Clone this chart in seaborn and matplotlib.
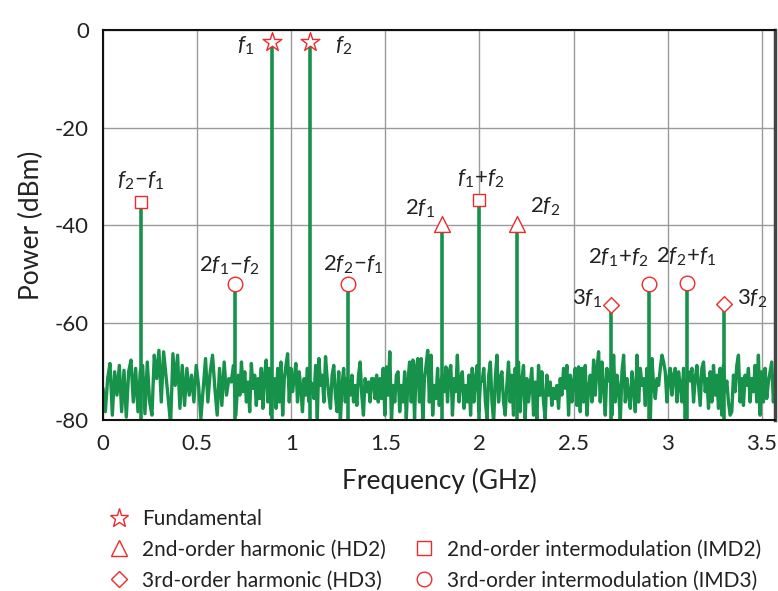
import numpy as np
import pandas as pd
import matplotlib
matplotlib.use("Agg")
import matplotlib.pyplot as plt
from matplotlib.lines import Line2D
import seaborn as sns

# noise floor (dBm)
seg_edges = [0.0, 0.718, 1.436, 2.154, 2.872, 3.57]
noise_1 = [-73.5, -78.3, -71.5, -68.4, -79.0, -70.1, -74.9, -68.8, -78.3, -69.8,
           -79.4, -70.1, -67.7, -76.3, -69.4, -78.3, -70.0, -68.8, -78.7, -68.1,
           -76.3, -79.0, -66.7, -71.5, -65.7, -76.3, -66.0, -70.8, -75.6, -81.0,
           -66.4, -72.9, -66.7, -77.6, -68.8, -77.0, -69.4, -74.9, -70.8, -76.3,
           -68.8, -72.9, -79.7, -73.5, -67.4, -76.3, -70.1, -66.7, -73.5, -79.0,
           -69.4, -77.0, -68.1, -74.9, -71.5, -72.2, -68.8, -79.0]
noise_2 = [-70.8, -74.9, -68.1, -74.2, -70.1, -76.3, -72.2, -78.3, -68.4, -73.5,
           -70.8, -77.0, -71.5, -75.6, -69.4, -77.6, -70.8, -67.7, -76.3, -69.4,
           -79.0, -72.0, -71.5, -77.6, -69.4, -76.3, -68.1, -79.0, -71.5, -68.8,
           -66.4, -76.3, -69.4, -74.2, -71.5, -68.4, -76.3, -70.1, -73.5, -78.3,
           -71.5, -74.9, -69.4, -76.3, -72.2, -73.0, -75.6, -68.8, -79.7, -67.4,
           -72.9, -70.8, -76.3, -67.0, -71.5, -74.9, -77.6, -70.8, -68.8, -74.9,
           -78.3, -70.1, -80.4, -72.9, -69.4, -76.3, -71.5, -72.0, -74.9, -70.8,
           -76.3, -72.9, -77.0, -70.8, -68.1, -74.9, -79.0, -71.5, -74.2, -72.2,
           -76.3, -71.5]
noise_3 = [-71.5, -75.6, -70.8, -76.3, -71.5, -75.6, -69.4, -79.0, -69.1, -74.9,
           -66.0, -80.4, -72.9, -76.3, -70.8, -70.1, -78.3, -72.9, -76.3, -70.1,
           -79.7, -72.2, -68.1, -76.3, -67.7, -79.7, -69.4, -67.4, -76.3, -67.4,
           -80.4, -71.5, -68.8, -65.7, -76.3, -66.7, -79.0, -72.9, -75.6, -69.4,
           -77.0, -72.0, -70.8, -74.2, -69.1, -76.3, -70.1, -68.8, -79.0, -71.5,
           -74.2, -66.7, -76.3, -71.5, -70.1, -77.6, -72.9, -76.3, -70.8, -79.0,
           -69.4, -76.3, -71.5, -68.8, -78.3, -72.2, -72.0, -69.4, -76.3, -79.7,
           -70.8, -68.1, -76.3, -80.4, -71.5, -66.7, -76.3, -71.5, -70.1, -76.3,
           -79.0, -72.9]
noise_4 = [-68.1, -76.3, -70.8, -79.0, -69.4, -74.2, -68.1, -78.3, -72.0, -68.8,
           -79.7, -71.5, -76.3, -72.9, -69.4, -79.0, -72.2, -80.4, -68.8, -74.9,
           -70.1, -76.3, -79.7, -70.8, -74.9, -72.2, -77.0, -73.5, -75.6, -72.9,
           -77.6, -71.5, -74.9, -69.4, -73.5, -68.8, -79.0, -70.8, -76.3, -72.2,
           -69.4, -77.0, -69.1, -78.3, -69.4, -76.3, -68.8, -79.0, -73.5, -70.8,
           -76.3, -67.7, -74.9, -69.4, -66.0, -76.3, -68.1, -72.9, -79.0, -69.4,
           -72.0, -70.1, -79.0, -66.7, -76.3, -70.8, -73.5, -80.4, -70.1, -66.7,
           -76.3, -71.5, -74.9, -77.6, -70.1, -73.5, -78.3, -66.7, -76.3, -69.4,
           -72.9]
noise_5 = [-71.5, -77.0, -69.4, -72.0, -80.4, -67.4, -72.9, -75.6, -71.5, -72.9,
           -69.4, -66.7, -68.1, -70.1, -76.3, -71.5, -69.4, -74.9, -70.8, -69.4,
           -76.3, -70.1, -72.9, -76.3, -69.4, -79.7, -72.2, -70.1, -72.0, -69.4,
           -76.3, -71.5, -68.8, -72.9, -77.0, -69.4, -68.1, -74.2, -71.5, -77.6,
           -70.1, -76.3, -68.8, -74.9, -70.8, -77.6, -69.4, -79.0, -68.8, -74.2,
           -72.0, -76.3, -79.0, -78.3, -70.8, -74.2, -68.8, -66.7, -76.3, -71.5,
           -77.0, -70.8, -72.9, -69.4, -76.3, -71.5, -74.2, -68.8, -76.3, -66.7,
           -79.0, -70.1, -76.3, -69.4, -75.6, -72.2, -70.1, -68.1, -76.3, -70.8]

# tones
tone_names = ["$f_1$", "$f_2$", r"$f_2\!-\!f_1$", r"$2f_1\!-\!f_2$", r"$2f_2\!-\!f_1$",
              "$2f_1$", r"$f_1\!+\!f_2$", "$2f_2$", "$3f_1$", r"$2f_1\!+\!f_2$",
              r"$2f_2\!+\!f_1$", "$3f_2$"]
tone_freq = [0.9, 1.1, 0.2, 0.7, 1.3, 1.8, 2.0, 2.2, 2.7, 2.9, 3.1, 3.3]
tone_power = [-2.4, -2.4, -35.3, -52.1, -52.1, -39.8, -34.9, -39.8, -56.5, -52.1, -51.9, -56.2]
tone_kind = ["Fundamental", "Fundamental", "IMD2", "IMD3", "IMD3", "HD2", "IMD2",
             "HD2", "HD3", "IMD3", "IMD3", "HD3"]

kinds = ["Fundamental", "HD2", "HD3", "IMD2", "IMD3"]
kind_labels = ["Fundamental", "2nd-order harmonic (HD2)", "3rd-order harmonic (HD3)",
               "2nd-order intermodulation (IMD2)", "3rd-order intermodulation (IMD3)"]
kind_marker = {"Fundamental": "*", "HD2": "^", "HD3": "D", "IMD2": "s", "IMD3": "o"}
kind_size = {"Fundamental": 200, "HD2": 130, "HD3": 64, "IMD2": 85, "IMD3": 110}

# label offsets (points): dx, dy, horizontal align, vertical align
label_off = [(-13, -3, "right", "center"), (18, -3, "left", "center"),
             (0, 7, "center", "bottom"), (-4, 5, "center", "bottom"),
             (4, 6, "center", "bottom"), (-5, 3, "right", "bottom"),
             (1, 7, "center", "bottom"), (9, 4, "left", "bottom"),
             (-7, 5, "right", "center"), (-22, 11, "center", "bottom"),
             (0, 11, "center", "bottom"), (9, 4, "left", "center")]

green = "#17924a"
red = "#ee2a2a"

sns.set_style("white")
plt.rcParams["font.family"] = ["Lato", "DejaVu Sans"]
plt.rcParams["mathtext.fontset"] = "custom"
plt.rcParams["mathtext.rm"] = "Lato"
plt.rcParams["mathtext.it"] = "Lato:italic"
plt.rcParams["axes.unicode_minus"] = False

segs = [noise_1, noise_2, noise_3, noise_4, noise_5]
freq, power = [], []
for i, s in enumerate(segs):
    freq += list(np.linspace(seg_edges[i], seg_edges[i + 1], len(s), endpoint=(i == 4)))
    power += s
noise_df = pd.DataFrame({"freq": freq, "power": power})
tones = pd.DataFrame({"freq": tone_freq, "power": tone_power, "kind": tone_kind})

fig = plt.figure(figsize=(7.78, 5.91), dpi=100)
ax = fig.add_axes([0.1324, 0.2893, 0.8638, 0.6599])

sns.lineplot(data=noise_df, x="freq", y="power", ax=ax, color=green, lw=2.4, zorder=2)
ax.vlines(tones["freq"], -80, tones["power"], color=green, lw=2.6, zorder=2)
for k in kinds:
    sub = tones[tones.kind == k]
    sns.scatterplot(data=sub, x="freq", y="power", ax=ax, marker=kind_marker[k],
                    s=kind_size[k], facecolor="white", edgecolor=red, linewidth=1.0,
                    zorder=4, legend=False)

for name, fx, py, (dx, dy, ha, va) in zip(tone_names, tone_freq, tone_power, label_off):
    ax.annotate(name, (fx, py), xytext=(dx, dy), textcoords="offset points",
                ha=ha, va=va, fontsize=16, color="#222222")

ax.set_xlim(0, 3.57)
ax.set_ylim(-80, 0)
ax.set_xticks([0, 0.5, 1, 1.5, 2, 2.5, 3, 3.5])
ax.set_xticklabels(["0", "0.5", "1", "1.5", "2", "2.5", "3", "3.5"])
ax.set_yticks([-80, -60, -40, -20, 0])
ax.set_yticklabels(["-80", "-60", "-40", "-20", "0"])
ax.tick_params(labelsize=16, length=0, pad=10, colors="#222222")
ax.grid(True, color="#9a9a9a", lw=1)
ax.set_axisbelow(True)
for sp in ax.spines.values():
    sp.set_color("#111111")
    sp.set_linewidth(1.5)
ax.spines["right"].set_color("#444444")
ax.spines["right"].set_linewidth(2.5)
ax.set_xlabel("Frequency (GHz)", fontsize=19, labelpad=10, color="#222222")
ax.set_ylabel("Power (dBm)", fontsize=19, labelpad=8, color="#222222")

handles = []
order = ["Fundamental", "HD2", "HD3", None, "IMD2", "IMD3"]
labels = []
leg_ms = {"Fundamental": 14, "HD2": 11, "HD3": 8, "IMD2": 9.5, "IMD3": 10.5}
for k in order:
    if k is None:
        handles.append(Line2D([], [], linestyle="none"))
        labels.append("")
    else:
        handles.append(Line2D([], [], linestyle="none", marker=kind_marker[k], ms=leg_ms[k],
                              mfc="white", mec=red, mew=1.0))
        labels.append(kind_labels[kinds.index(k)])
fig.legend(handles, labels, ncol=2, loc="upper left", bbox_to_anchor=(0.137, 0.139),
           bbox_transform=fig.transFigure, frameon=False, fontsize=15,
           handletextpad=0.5, columnspacing=1.25, labelspacing=0.52, handlelength=1.2,
           borderaxespad=0, borderpad=0)
for t in fig.legends[0].get_texts():
    t.set_color("#222222")

fig.savefig("out.png", dpi=100)
